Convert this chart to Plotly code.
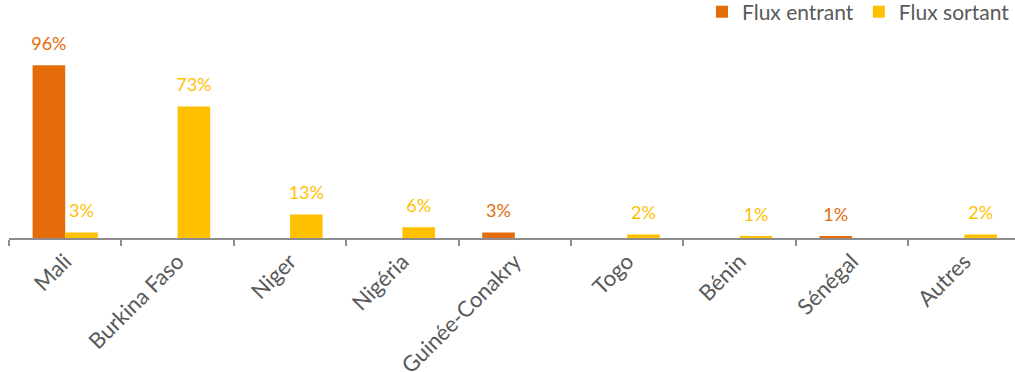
import plotly.graph_objects as go

categories = ["Mali", "Burkina Faso", "Niger", "Nigéria", "Guinée-Conakry",
              "Togo", "Bénin", "Sénégal", "Autres"]
flux_entrant = [96, 0, 0, 0, 3, 0, 0, 1, 0]
flux_sortant = [3, 73, 13, 6, 0, 2, 1, 0, 2]

ORANGE = "#E46C0A"
YELLOW = "#FFC000"


def labels(values):
    return [f"{v}%" if v else "" for v in values]


fig = go.Figure()
for name, values, color in [
    ("Flux entrant", flux_entrant, ORANGE),
    ("Flux sortant", flux_sortant, YELLOW),
]:
    fig.add_trace(
        go.Bar(
            x=categories,
            y=values,
            name=name,
            offsetgroup=name,
            marker=dict(color=color, line=dict(width=0)),
        )
    )
    # value labels, aligned on the grouped bars
    fig.add_trace(
        go.Scatter(
            x=categories,
            y=values,
            mode="markers+text",
            offsetgroup=name,
            text=labels(values),
            textposition="top center",
            textfont=dict(color=color, size=18),
            marker=dict(size=16, opacity=0),
            showlegend=False,
            hoverinfo="skip",
            cliponaxis=False,
        )
    )

fig.update_layout(
    width=1015,
    height=372,
    margin=dict(l=9, r=0, t=40, b=134, autoexpand=False),
    barmode="group",
    scattermode="group",
    bargap=0.42,
    bargroupgap=0,
    plot_bgcolor="white",
    paper_bgcolor="white",
    font=dict(family="Lato, sans-serif", color="#595959", size=20),
    legend=dict(
        orientation="h",
        x=1.0,
        xanchor="right",
        y=1.141,
        yanchor="middle",
        font=dict(size=21, color="#595959"),
        itemwidth=30,
        traceorder="normal",
    ),
    xaxis=dict(
        type="category",
        range=[-0.5, 8.45],
        automargin=False,
        tickangle=-45,
        tickson="boundaries",
        ticks="outside",
        ticklen=6,
        tickcolor="#8c8c8c",
        tickwidth=2,
        showline=True,
        linecolor="#8c8c8c",
        linewidth=2,
        tickfont=dict(size=22, color="#595959"),
    ),
    yaxis=dict(
        range=[0, 110],
        visible=False,
        showgrid=False,
        zeroline=False,
        automargin=False,
    ),
)

# drop the default 8px body margin so the figure fills the window
fig.write_html(
    "out.html",
    config={"displayModeBar": False},
    post_script="document.body.style.margin = '0';",
)
